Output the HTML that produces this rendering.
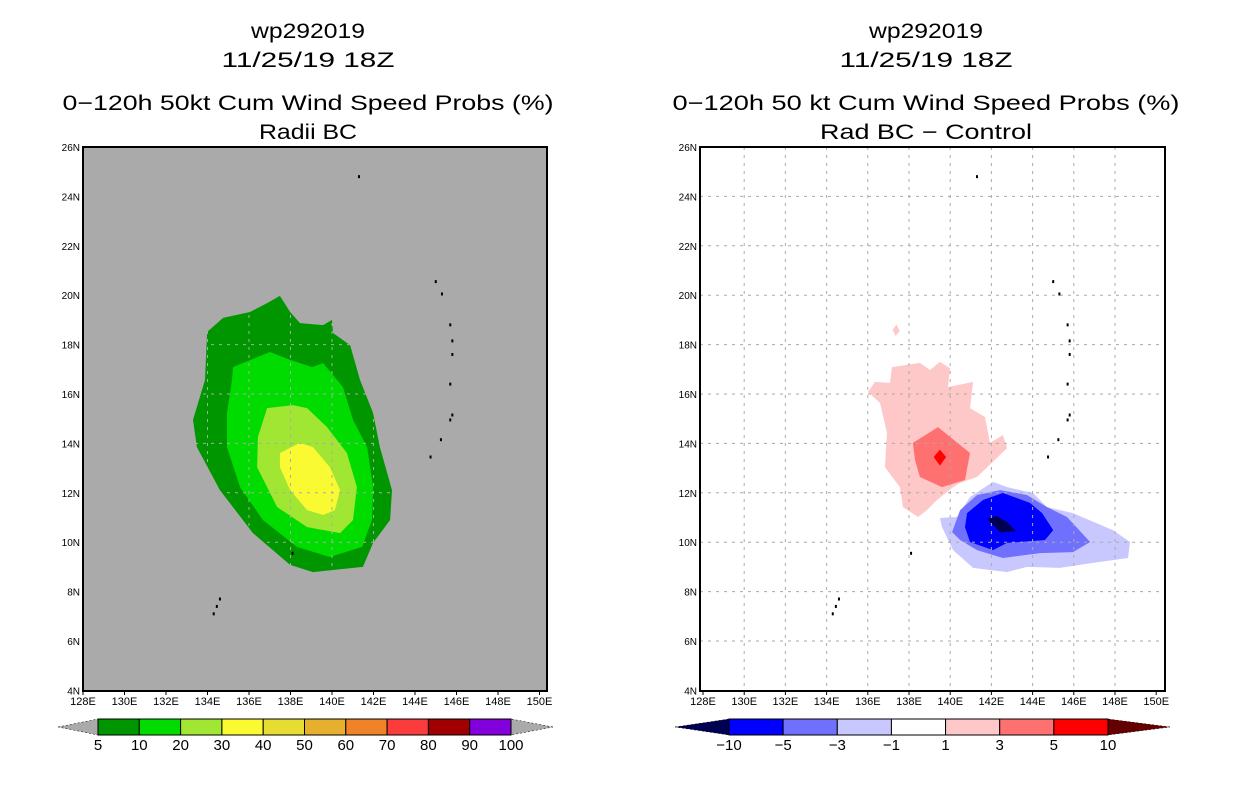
<!DOCTYPE html>
<html><head><meta charset="utf-8">
<style>
body{margin:0;background:#fff;width:1236px;height:800px;overflow:hidden;font-family:"Liberation Sans",sans-serif}
svg{position:absolute;left:0;top:0}
</style></head>
<body>
<svg id="s" width="1236" height="800" xmlns="http://www.w3.org/2000/svg"></svg>
<script>
// ---- data ----
const lonTicks=[128,130,132,134,136,138,140,142,144,146,148,150];
const latTicks=[4,6,8,10,12,14,16,18,20,22,24,26];
const probLevels=["5","10","20","30","40","50","60","70","80","90","100"];
const probColors=["#009600","#00dc00","#a0e632","#fafa32","#e6dc32","#e6af2d","#f08228","#fa3c3c","#a00000","#8200dc"];
const diffLevels=["-10","-5","-3","-1","1","3","5","10"];
const diffColors=["#0000ff","#7070ff","#c8c8ff","#ffffff","#ffc8c8","#ff7070","#ff0000"];
const prob5=[[137.49,19.97],[137.98,19.32],[138.46,18.87],[139.57,18.79],[140.0,19.0],[140.05,18.47],[140.87,17.98],[141.35,16.57],[141.98,15.23],[142.31,13.85],[142.89,12.11],[142.8,10.9],[141.98,9.97],[141.49,9.0],[139.08,8.79],[137.98,9.08],[136.19,10.37],[134.6,12.11],[133.49,13.85],[133.3,14.95],[133.88,16.57],[133.98,18.51],[134.75,19.08],[136.05,19.32],[136.87,19.68]];
const prob10=[[135.23,17.09],[137.01,17.7],[137.98,17.38],[139.04,17.09],[139.57,17.25],[140.53,16.28],[141.01,14.95],[141.69,13.85],[141.98,12.23],[141.93,10.9],[141.45,9.81],[139.9,9.4],[138.31,9.81],[136.67,10.9],[135.57,12.23],[134.94,13.85],[134.94,15.23],[135.18,16.57]];
const prob20=[[136.87,15.43],[138.12,15.55],[138.8,15.43],[139.76,14.66],[140.72,13.61],[141.2,12.23],[141.01,10.9],[140.39,10.37],[138.8,10.61],[137.35,11.43],[136.39,13.04],[136.43,14.26]];
const prob30=[[137.49,13.61],[138.46,14.02],[139.08,13.85],[139.9,13.04],[140.39,12.11],[140.14,11.3],[139.57,11.1],[138.8,11.3],[137.98,12.11],[137.49,13.04]];
const diffP1=[[136.01,16.08],[136.35,16.49],[137.08,16.45],[137.17,17.09],[138.53,17.26],[139.02,16.97],[139.5,17.3],[139.99,17.05],[139.89,16.28],[141.11,16.49],[140.96,15.43],[141.69,15.07],[141.93,14.02],[142.56,14.34],[142.76,13.81],[141.3,12.64],[140.48,12.4],[140.14,12.23],[139.36,11.71],[138.87,11.3],[138.44,11.02],[137.71,11.42],[137.56,12.23],[136.83,13.04],[136.93,14.42],[136.59,15.64]];
const diffP1b=[[137.2,18.6],[137.4,18.8],[137.55,18.55],[137.35,18.35]];
const diffP3=[[138.19,14.02],[139.41,14.66],[140.96,13.61],[140.72,12.52],[139.6,12.23],[138.53,12.64],[138.29,13.33]];
const diffP5=[[139.5,13.75],[139.8,13.45],[139.5,13.1],[139.2,13.45]];
const diffM1=[[139.5,10.98],[140.33,11.02],[140.96,11.83],[142.08,12.44],[142.76,12.23],[144.02,11.99],[144.7,11.42],[145.96,11.18],[147.9,10.49],[148.73,10.01],[148.63,9.36],[146.93,9.16],[145.33,8.96],[143.73,9.0],[142.76,8.79],[141.11,8.96],[140.14,9.68],[139.6,10.61]];
const diffM3=[[140.09,10.41],[140.48,11.3],[141.3,11.91],[142.42,12.11],[143.73,11.91],[144.7,11.42],[145.67,11.02],[146.79,10.01],[145.96,9.6],[144.36,9.56],[142.56,9.36],[141.3,9.68],[140.48,10.09]];
const diffM5=[[140.82,11.18],[141.59,11.71],[142.56,11.99],[143.87,11.59],[144.46,11.18],[145.0,10.49],[144.6,10.09],[142.76,9.97],[142.08,9.68],[140.96,10.01],[140.72,10.61]];
const diffM10=[[141.79,10.94],[142.27,11.06],[142.76,10.81],[143.19,10.45],[142.42,10.41]];
const islands=[[141.3,24.8],[145.0,20.55],[145.3,20.05],[145.7,18.8],[145.8,18.15],[145.8,17.6],[145.7,16.4],[145.8,15.15],[145.7,14.95],[145.25,14.15],[144.75,13.45],[138.1,9.55],[134.6,7.7],[134.45,7.4],[134.3,7.1]];

const NS="http://www.w3.org/2000/svg";
const svg=document.getElementById('s');
function el(t,a,p){const e=document.createElementNS(NS,t);for(const k in a)e.setAttribute(k,a[k]);(p||svg).appendChild(e);return e;}
function txt(x,y,s,size,anchor,p){const t=el('text',{x:x,y:y,'font-size':size,'text-anchor':anchor||'middle',fill:'#000','font-family':'Liberation Sans, sans-serif'},p);t.textContent=s;return t;}

function makeMap(opt){
  const g=el('g',{});
  
  
  const X=lon=>opt.x0+(lon-128)*opt.dx;
  const Y=lat=>147+(26-lat)*24.7;
  const bg=el('rect',{x:opt.left,y:147,width:opt.right-opt.left,height:544,fill:opt.bg},g);
  
  
  opt.polys.forEach(([pts,col,nm])=>{
    const p=el('polygon',{points:pts.map(q=>X(q[0]).toFixed(1)+','+Y(q[1]).toFixed(1)).join(' '),fill:col},g);
    
    
  });
  lonTicks.slice(1,-1).forEach(l=>{const ln=el('line',{x1:X(l),x2:X(l),y1:147,y2:691,stroke:'#aaa','stroke-dasharray':'3,5'},g);
    });
  latTicks.slice(1,-1).forEach(l=>{const ln=el('line',{x1:opt.left,x2:opt.right,y1:Y(l),y2:Y(l),stroke:'#aaa','stroke-dasharray':'3,5'},g);
    });
  islands.forEach(q=>{const r=el('rect',{x:X(q[0])-1,y:Y(q[1])-1.5,width:2,height:3,fill:'#000'},g);
    });
  const fr=el('rect',{x:opt.left,y:147,width:opt.right-opt.left,height:544,fill:'none',stroke:'#000','stroke-width':2},g);
  
  lonTicks.forEach(l=>{const t=txt(X(l),705,l+'E',11,'middle',g);
    el('line',{x1:X(l),x2:X(l),y1:691,y2:695,stroke:'#000'},g);});
  latTicks.forEach(l=>{const t=txt(opt.left-3,Y(l)+4,l+'N',10,'end',g);});
  opt.titles.forEach((s,i)=>{const t=txt(opt.cx,[38,67,110,139][i],s,21,'middle',g);
    t.setAttribute('textLength',opt.tlens[i]);t.setAttribute('lengthAdjust','spacingAndGlyphs');
    });
}
makeMap({name:'left-map',x0:83,dx:20.75,left:83,right:547,bg:'#aaaaaa',cx:308,tlens:[114,173,491,98],
  titles:['wp292019','11/25/19 18Z','0\u2212120h 50kt Cum Wind Speed Probs (%)','Radii BC'],
  polys:[[prob5,probColors[0],'prob-5'],[prob10,probColors[1],'prob-10'],[prob20,probColors[2],'prob-20'],[prob30,probColors[3],'prob-30']]});
makeMap({name:'right-map',x0:703,dx:20.6,left:700,right:1165,bg:'#ffffff',cx:926,tlens:[114,173,507,212],
  titles:['wp292019','11/25/19 18Z','0\u2212120h 50 kt Cum Wind Speed Probs (%)','Rad BC \u2212 Control'],
  polys:[[diffP1,diffColors[4],'diff-plus-1'],[diffP1b,diffColors[4],'diff-plus-1-small'],[diffP3,diffColors[5],'diff-plus-3'],[diffP5,diffColors[6],'diff-plus-5'],
         [diffM1,diffColors[2],'diff-minus-1'],[diffM3,diffColors[1],'diff-minus-3'],[diffM5,diffColors[0],'diff-minus-5'],[diffM10,'#000050','diff-minus-10']]});

function colorbar(name,x0,x1,cols,labels,lcol,rcol,tl,tr){
  const g=el('g',{});
  
  
  const y0=719,y1=735,w=(x1-x0)/cols.length;
  el('polygon',{points:`${tl},727 ${x0},${y0} ${x0},${y1}`,fill:lcol,stroke:'#000','stroke-dasharray':'2,2','stroke-width':0.5},g);
  el('polygon',{points:`${tr},727 ${x1},${y0} ${x1},${y1}`,fill:rcol,stroke:'#000','stroke-dasharray':'2,2','stroke-width':0.5},g);
  cols.forEach((c,i)=>{const r=el('rect',{x:x0+i*w,y:y0,width:w,height:y1-y0,fill:c,stroke:'#000','stroke-width':1},g);
    });
  labels.forEach((s,i)=>{const t=txt(x0+i*w,750,s.replace('-','\u2212'),15,'middle',g);});
}
colorbar('left-colorbar',98,511,probColors,probLevels,'#aaaaaa','#aaaaaa',58,553);
colorbar('right-colorbar',729,1108,diffColors,diffLevels,'#000050','#640000',675,1170);
</script>
</body></html>
